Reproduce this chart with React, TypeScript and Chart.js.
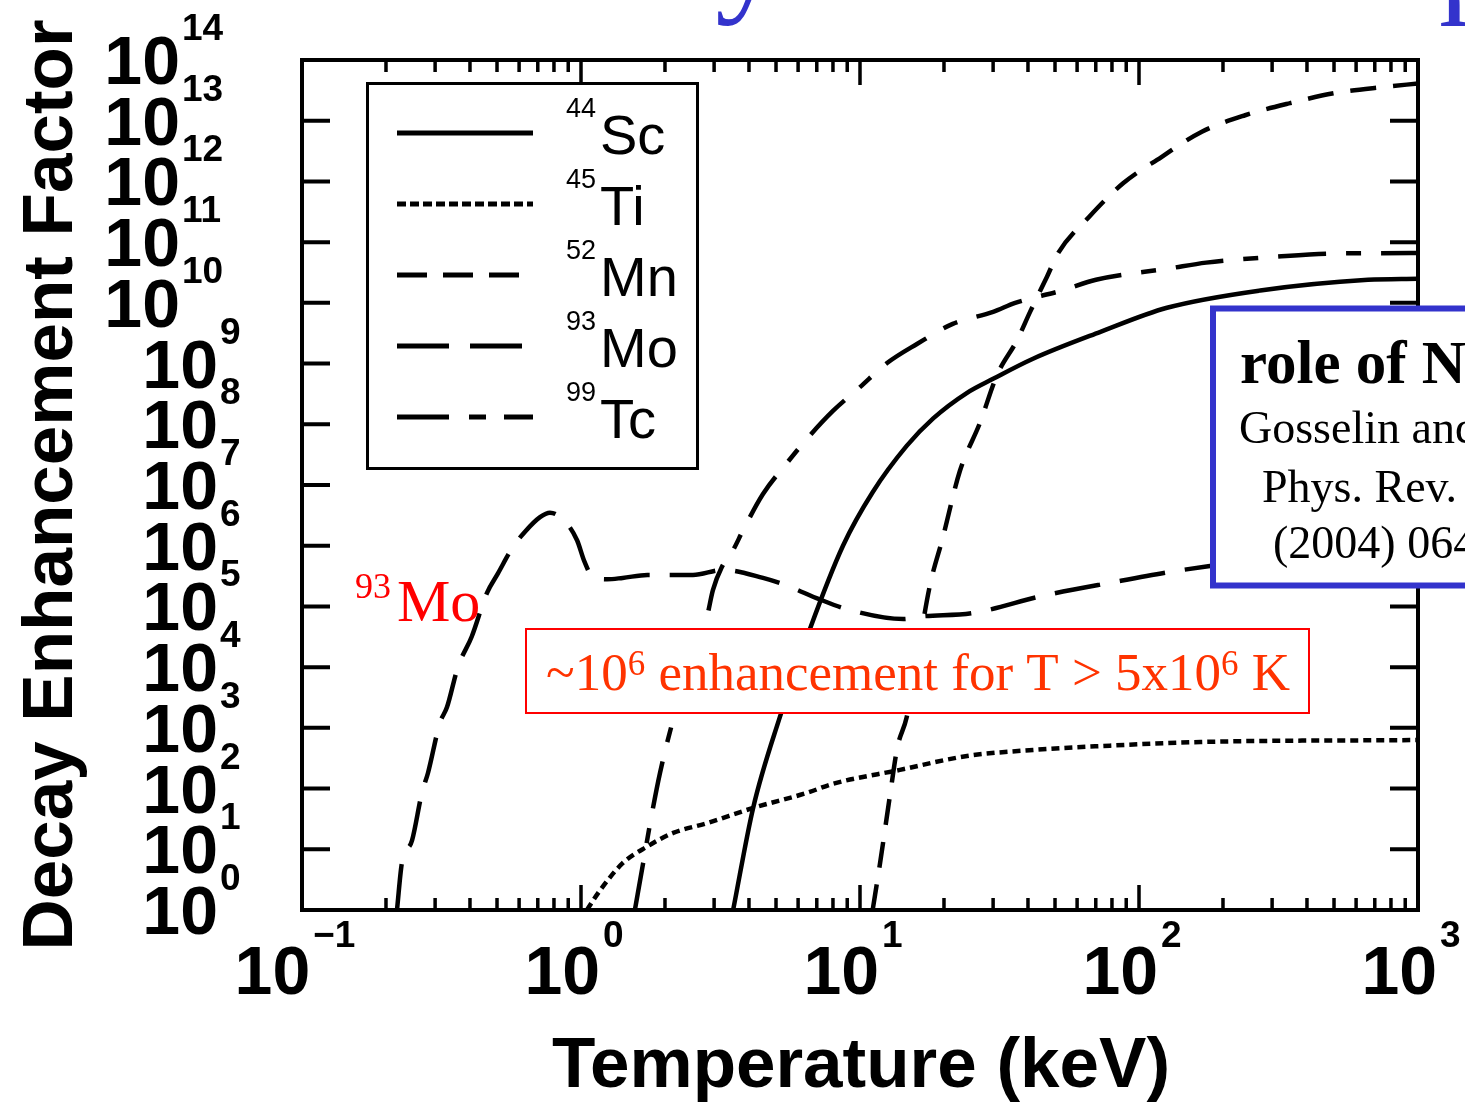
import React, { useEffect, useRef } from "react";
import { Chart, registerables } from "chart.js";

Chart.register(...registerables);

const W = 1465;
const H = 1105;

// ---- data (temperature in keV, decay enhancement factor) ----
const scTemps = [3.51, 4.14, 5.16, 6.62, 8.69, 11.1, 14.7, 18.3, 24.2, 30.0, 41.7, 72.4, 126, 272, 662, 1000];
const scFactors = [1, 48, 1.5e3, 4.3e4, 1e6, 7.6e6, 4.4e7, 1.25e8, 3.3e8, 5.6e8, 1.2e9, 3.3e9, 8.3e9, 1.6e10, 2.4e10, 2.5e10];

const tiTemps = [1.05, 1.17, 1.41, 1.72, 2.14, 2.83, 4.14, 6.46, 8.0, 13.9, 24.2, 41.7, 72.4, 166, 1000];
const tiFactors = [1, 2.1, 5.9, 11, 18.6, 27, 48, 85, 120, 203, 344, 433, 500, 585, 630];

const mnTemps = [11.1, 11.8, 12.8, 13.6, 14.7, 17.8, 19.8, 22.8, 26.9, 31.0, 36.6, 40.7, 46.8, 51.3, 66.2, 87.7, 120, 168, 240, 348, 513, 755, 1000];
const mnFactors = [1, 5.9, 76, 468, 1.5e3, 2.2e5, 1.35e6, 1.7e7, 1.05e8, 6.5e8, 2.45e9, 7.1e9, 2.7e10, 6.6e10, 2.6e11, 9.3e11, 2.5e12, 6.6e12, 1.23e13, 1.95e13, 2.9e13, 3.6e13, 4.1e13];

const moTemps = [0.219, 0.228, 0.248, 0.269, 0.283, 0.312, 0.331, 0.362, 0.406, 0.46, 0.504, 0.57, 0.63, 0.713, 0.774, 0.891, 0.968, 1.03, 1.1, 1.24, 1.41, 1.73, 2.52, 3.23, 4.49, 5.47, 7.19, 9.21, 14.3, 16.4, 25.4, 45.3, 78.7, 144, 378, 1000];
const moFactors = [1, 5.9, 14, 85, 182, 1.2e3, 2.2e3, 1e4, 3.2e4, 1.66e5, 3.5e5, 9.5e5, 1.7e6, 2.95e6, 3.5e6, 2.3e6, 1.23e6, 5.4e5, 3.1e5, 2.8e5, 2.95e5, 3.3e5, 3.3e5, 4.0e5, 2.95e5, 2.2e5, 1.3e5, 8.7e4, 6.2e4, 6.8e4, 7.8e4, 1.5e5, 2.45e5, 4.0e5, 7.1e5, 1.1e6];

const tcTemps = [1.56, 1.67, 1.77, 1.92, 2.14, 2.83, 2.97, 3.2, 3.51, 3.81, 4.49, 5.47, 6.46, 8.0, 10, 12.5, 16.0, 21.5, 30.0, 36.0, 53.0, 70.1, 129, 174, 310, 496, 1000];
const tcFactors = [1, 5.9, 27, 182, 1.35e3, 6.8e4, 1.86e5, 4.5e5, 8.5e5, 1.8e6, 7.1e6, 2.3e7, 5.8e7, 1.66e8, 4.1e8, 1.02e9, 2.1e9, 4.5e9, 7.1e9, 1e10, 1.6e10, 2.4e10, 3.7e10, 4.6e10, 5.75e10, 6.5e10, 6.6e10];

const elementNames = ["Sc", "Ti", "Mn", "Mo", "Tc"];
const massNumbers = ["44", "45", "52", "93", "99"];

const xTickExponents = [-1, 0, 1, 2, 3];
const yTickExponents = [0, 1, 2, 3, 4, 5, 6, 7, 8, 9, 10, 11, 12, 13, 14];

const xAxisTitle = "Temperature (keV)";
const yAxisTitle = "Decay Enhancement Factor";
const slideTitle = "Decay rates in hot plasmas";
const moLabelMass = "93";
const moLabelName = "Mo";
const noteParts = [
  { t: "~10", sup: false },
  { t: "6", sup: true },
  { t: " enhancement for T > 5x10", sup: false },
  { t: "6", sup: true },
  { t: " K", sup: false },
];
const refLines = ["role of NEEC", "Gosselin and Morel", "Phys. Rev. C 70", "(2004) 064603"];

// ---- styles ----
const lineStyles = [
  { dash: [] as number[], legendDash: [] as number[] },
  { dash: [8, 5], legendDash: [9, 4] },
  { dash: [26, 17], legendDash: [30, 16] },
  { dash: [46, 20], legendDash: [52, 21] },
  { dash: [48, 20, 15, 20], legendDash: [52, 20, 17, 18] },
];

const SANS = '"Liberation Sans", Arial, Helvetica, sans-serif';
const SERIF = '"Liberation Serif", "Times New Roman", serif';

function pts(xs: number[], ys: number[]) {
  return xs.map((x, i) => ({ x, y: ys[i] }));
}

const decorPlugin = {
  id: "decor",
  afterDatasetsDraw(chart: any) {
    const ctx: CanvasRenderingContext2D = chart.ctx;
    const xs = chart.scales.x;
    const ys = chart.scales.y;
    const { left, right, top, bottom } = chart.chartArea;
    ctx.save();

    // slide title (almost entirely cut off at the top)
    ctx.fillStyle = "#3333cc";
    ctx.font = `133px ${SERIF}`;
    ctx.textAlign = "left";
    ctx.textBaseline = "alphabetic";
    ctx.fillText(slideTitle, 442, -2);

    // frame
    ctx.strokeStyle = "#000";
    ctx.lineWidth = 4;
    ctx.setLineDash([]);
    ctx.strokeRect(left, top, right - left, bottom - top);

    // x ticks (top & bottom, inward)
    ctx.lineWidth = 3.5;
    for (let e = xTickExponents[0]; e < xTickExponents[xTickExponents.length - 1]; e++) {
      for (let m = 1; m < 10; m++) {
        const v = m * Math.pow(10, e);
        const px = xs.getPixelForValue(v);
        const len = m === 1 ? 25 : 12;
        ctx.beginPath();
        ctx.moveTo(px, bottom);
        ctx.lineTo(px, bottom - len);
        ctx.moveTo(px, top);
        ctx.lineTo(px, top + len);
        ctx.stroke();
      }
    }
    // y ticks (left & right, inward)
    ctx.lineWidth = 4;
    for (const k of yTickExponents) {
      const py = ys.getPixelForValue(Math.pow(10, k));
      ctx.beginPath();
      ctx.moveTo(left, py);
      ctx.lineTo(left + 28, py);
      ctx.moveTo(right, py);
      ctx.lineTo(right - 28, py);
      ctx.stroke();
    }

    // y tick labels
    ctx.fillStyle = "#000";
    for (const k of yTickExponents) {
      const py = ys.getPixelForValue(Math.pow(10, k));
      const exp = String(k);
      const baseRight = exp.length > 1 ? 180 : 218;
      ctx.font = `bold 68px ${SANS}`;
      ctx.textAlign = "right";
      ctx.fillText("10", baseRight, py + 24);
      ctx.font = `bold 37px ${SANS}`;
      ctx.textAlign = "left";
      ctx.fillText(exp, baseRight + 2, py - 20);
    }

    // x tick labels
    for (const e of xTickExponents) {
      const px = xs.getPixelForValue(Math.pow(10, e));
      const exp = e < 0 ? "\u2212" + String(-e) : String(e);
      ctx.font = `bold 68px ${SANS}`;
      const bw = ctx.measureText("10").width;
      ctx.font = `bold 37px ${SANS}`;
      const ew = ctx.measureText(exp).width;
      const total = bw + 3 + ew;
      const x0 = px - 7 - total / 2;
      ctx.textAlign = "left";
      ctx.font = `bold 68px ${SANS}`;
      ctx.fillText("10", x0, 994);
      ctx.font = `bold 37px ${SANS}`;
      ctx.fillText(exp, x0 + bw + 3, 947);
    }

    // axis titles
    ctx.font = `bold 71px ${SANS}`;
    ctx.textAlign = "center";
    ctx.fillText(xAxisTitle, 861, 1087);
    ctx.save();
    ctx.translate(72, 485);
    ctx.rotate(-Math.PI / 2);
    ctx.fillText(yAxisTitle, 0, 0);
    ctx.restore();

    // legend
    ctx.fillStyle = "#fff";
    ctx.fillRect(366, 82, 332, 388);
    ctx.strokeStyle = "#000";
    ctx.lineWidth = 3;
    ctx.strokeRect(367.5, 83.5, 330, 385);
    for (let i = 0; i < elementNames.length; i++) {
      const ly = 133 + i * 71;
      ctx.lineWidth = 5;
      ctx.setLineDash(lineStyles[i].legendDash);
      ctx.beginPath();
      ctx.moveTo(397, ly);
      ctx.lineTo(533, ly);
      ctx.stroke();
      ctx.setLineDash([]);
      ctx.fillStyle = "#000";
      ctx.textAlign = "left";
      ctx.font = `27px ${SANS}`;
      ctx.fillText(massNumbers[i], 566, ly - 16);
      ctx.font = `56px ${SANS}`;
      ctx.fillText(elementNames[i], 600, ly + 21);
    }

    // red 93Mo label
    ctx.fillStyle = "#ff0000";
    ctx.font = `36px ${SERIF}`;
    ctx.fillText(moLabelMass, 355, 598);
    ctx.font = `60px ${SERIF}`;
    ctx.fillText(moLabelName, 397, 621);

    // red note box
    ctx.fillStyle = "#fff";
    ctx.fillRect(525, 628, 785, 86);
    ctx.strokeStyle = "#ff0000";
    ctx.lineWidth = 2;
    ctx.strokeRect(526, 629, 783, 84);
    ctx.fillStyle = "#ff3300";
    let tx = 546;
    for (const p of noteParts) {
      ctx.font = p.sup ? `35px ${SERIF}` : `53px ${SERIF}`;
      ctx.fillText(p.t, tx, p.sup ? 675 : 690);
      tx += ctx.measureText(p.t).width;
    }

    // blue reference box
    ctx.fillStyle = "#fff";
    ctx.fillRect(1213, 308, 300, 277);
    ctx.strokeStyle = "#3333cc";
    ctx.lineWidth = 6;
    ctx.strokeRect(1213, 308.5, 300, 277);
    ctx.fillStyle = "#000";
    ctx.font = `bold 61px ${SERIF}`;
    ctx.fillText(refLines[0], 1240, 383);
    ctx.font = `46px ${SERIF}`;
    ctx.fillText(refLines[1], 1239, 443);
    ctx.fillText(refLines[2], 1262, 502);
    ctx.fillText(refLines[3], 1273, 558);

    ctx.restore();
  },
};

export default function App() {
  const canvasRef = useRef<HTMLCanvasElement | null>(null);

  useEffect(() => {
    const canvas = canvasRef.current;
    if (!canvas) return;
    const seriesData = [
      pts(scTemps, scFactors),
      pts(tiTemps, tiFactors),
      pts(mnTemps, mnFactors),
      pts(moTemps, moFactors),
      pts(tcTemps, tcFactors),
    ];
    const chart = new Chart(canvas, {
      type: "line",
      data: {
        datasets: seriesData.map((d, i) => ({
          label: massNumbers[i] + elementNames[i],
          data: d,
          borderColor: "#000",
          borderWidth: 4.5,
          borderDash: lineStyles[i].dash,
          borderCapStyle: "butt",
          fill: false,
          pointRadius: 0,
          cubicInterpolationMode: "monotone",
        })),
      },
      options: {
        responsive: false,
        animation: false,
        devicePixelRatio: 1,
        layout: { padding: { left: 302, top: 60, right: 47, bottom: 195 } },
        plugins: { legend: { display: false }, tooltip: { enabled: false }, title: { display: false } },
        scales: {
          x: { type: "logarithmic", min: 0.1, max: 1000, display: false },
          y: { type: "logarithmic", min: 1, max: 1e14, display: false },
        },
      },
      plugins: [decorPlugin],
    } as any);
    return () => chart.destroy();
  }, []);

  return (
    <div style={{ position: "absolute", left: 0, top: 0, width: W, height: H, background: "#fff" }}>
      <canvas ref={canvasRef} width={W} height={H} style={{ display: "block" }} />
    </div>
  );
}
